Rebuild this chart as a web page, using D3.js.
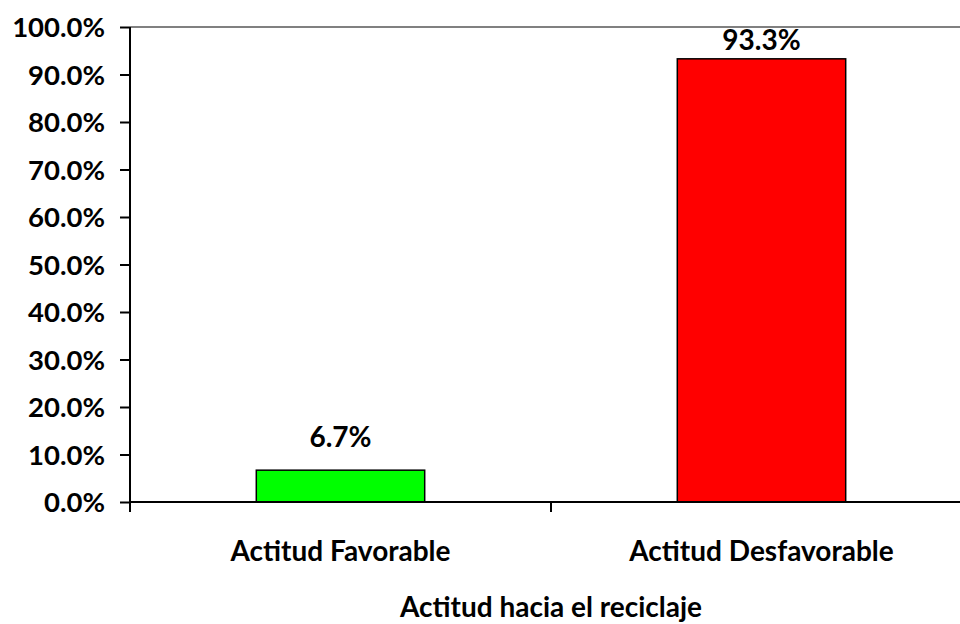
<!DOCTYPE html>
<html><head><meta charset="utf-8">
<script src="https://cdn.jsdelivr.net/npm/d3@7"></script>
<style>body{margin:0;background:#fff;} svg{display:block;} text{font-family:"Lato","Open Sans",sans-serif;font-weight:bold;fill:#000;}</style>
</head><body>
<svg id="c" width="960" height="624"></svg>
<script>
const categories = ["Actitud Favorable", "Actitud Desfavorable"];
const values = [0.067, 0.933];
const colors = ["#00ff00", "#ff0000"];
const yTicks = [0,0.1,0.2,0.3,0.4,0.5,0.6,0.7,0.8,0.9,1.0];
const xTitle = "Actitud hacia el reciclaje";

const svg = d3.select("#c");
const L = 130, R = 972, T = 27, B = 502;
const x = d3.scaleBand().domain(categories).range([L, R]).paddingInner(0.6).paddingOuter(0.3);
const xb = d3.scaleBand().domain(categories).range([L, R]);
const y = d3.scaleLinear().domain([0, 1]).range([B, T]);

// top border
svg.append("line").attr("x1", L).attr("x2", R).attr("y1", T).attr("y2", T).attr("stroke", "#808080").attr("stroke-width", 2);

// bars
svg.selectAll("rect.bar").data(values).enter().append("rect")
  .attr("x", (d,i) => x(categories[i])).attr("width", x.bandwidth())
  .attr("y", d => y(d)).attr("height", d => B - y(d))
  .attr("fill", (d,i) => colors[i]).attr("stroke", "#000").attr("stroke-width", 1.5);

// labels
svg.selectAll("text.lbl").data(values).enter().append("text")
  .attr("x", (d,i) => x(categories[i]) + x.bandwidth()/2)
  .attr("y", d => Math.max(y(d) - 23, T + 23))
  .attr("text-anchor", "middle").style("font-size", "28px")
  .text(d => d3.format(".1%")(d));

// y axis
const yAxis = d3.axisLeft(y).tickValues(yTicks).tickFormat(d3.format(".1%")).tickSize(10).tickPadding(15);
const gy = svg.append("g").attr("transform", `translate(${L},0)`).call(yAxis);
gy.select(".domain").attr("stroke", "#000").attr("stroke-width", 2).attr("d", `M0,${T}V${B}`);
gy.selectAll(".tick line").attr("stroke", "#000").attr("stroke-width", 2);
gy.selectAll(".tick text").style("font-size", "27.5px").attr("dy", "0.36em");

// x axis
const gx = svg.append("g").attr("transform", `translate(0,${B})`);
gx.append("line").attr("x1", L).attr("x2", R).attr("stroke", "#000").attr("stroke-width", 2);
const boundaries = [L].concat(categories.slice(1).map(c => xb(c)));
gx.selectAll("line.tk").data(boundaries).enter().append("line")
  .attr("x1", d => d).attr("x2", d => d).attr("y1", 0).attr("y2", 10).attr("stroke", "#000").attr("stroke-width", 2);
gx.selectAll("text.cat").data(categories).enter().append("text")
  .attr("x", d => xb(d) + xb.bandwidth()/2).attr("y", 59)
  .attr("text-anchor", "middle").style("font-size", "28px").text(d => d);

svg.append("text").attr("x", 551).attr("y", 617).attr("text-anchor", "middle").style("font-size", "28px").text(xTitle);
</script>
</body></html>
